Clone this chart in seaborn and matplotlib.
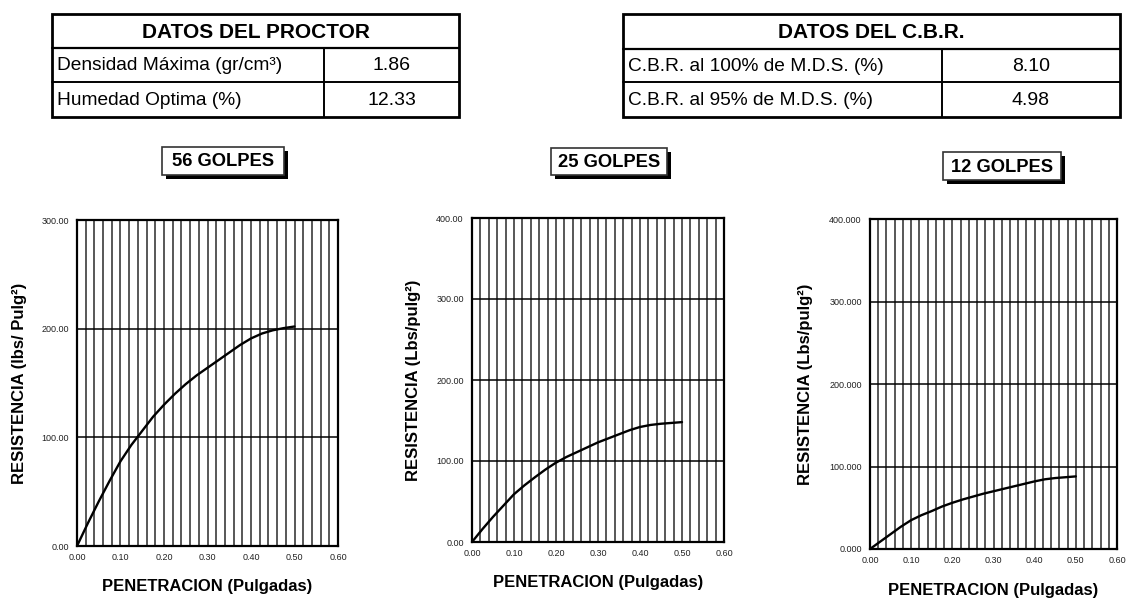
#!/usr/bin/env python3

'''
Curvas de penetracion CBR (56, 25 y 12 golpes) con tablas de datos del Proctor y del C.B.R.
'''

import matplotlib.pyplot as plt
import numpy as np
import pandas as pd
import seaborn as sns
from matplotlib.patches import Rectangle
from matplotlib.ticker import FormatStrFormatter, MultipleLocator

# Tablas de datos
proctor_title = 'DATOS DEL PROCTOR'
proctor_labels = ['Densidad Máxima (gr/cm³)', 'Humedad Optima (%)']
proctor_values = ['1.86', '12.33']

cbr_title = 'DATOS DEL C.B.R.'
cbr_labels = ['C.B.R. al 100% de M.D.S. (%)', 'C.B.R. al 95% de M.D.S. (%)']
cbr_values = ['8.10', '4.98']

# Curvas de penetracion
penetracion = [0.0, 0.025, 0.05, 0.075, 0.10, 0.125, 0.15, 0.175, 0.20, 0.225, 0.25,
               0.275, 0.30, 0.325, 0.35, 0.375, 0.40, 0.425, 0.45, 0.475, 0.50]
resist_56 = [0.0, 21.0, 41.0, 60.0, 78.0, 93.0, 106.0, 119.0, 130.0, 140.0, 149.0,
             157.0, 164.0, 171.0, 178.0, 185.0, 191.0, 195.5, 198.5, 200.5, 202.0]
resist_25 = [0.0, 16.0, 31.0, 45.0, 59.0, 70.0, 80.0, 89.5, 98.0, 105.0, 111.0,
             117.0, 123.0, 128.0, 133.0, 138.0, 142.0, 144.5, 146.0, 147.0, 148.0]
resist_12 = [0.0, 9.0, 18.0, 27.0, 35.0, 41.0, 46.0, 51.5, 56.0, 60.0, 63.5,
             67.0, 70.0, 73.0, 76.0, 79.0, 82.0, 84.5, 86.0, 87.0, 88.0]

golpes = ['56 GOLPES', '25 GOLPES', '12 GOLPES']
ylabels = ['RESISTENCIA (lbs/ Pulg²)', 'RESISTENCIA (Lbs/pulg²)', 'RESISTENCIA (Lbs/pulg²)']
ymax = [300, 400, 400]
yfmt = ['%.2f', '%.2f', '%.3f']

W, H = 1126, 598

sns.set_theme(style='white')
plt.rcParams['font.family'] = ['Liberation Sans', 'DejaVu Sans']
plt.rcParams['text.color'] = 'black'
plt.rcParams['axes.labelcolor'] = 'black'

df = pd.DataFrame({
    'penetracion': penetracion * 3,
    'resistencia': resist_56 + resist_25 + resist_12,
    'golpes': np.repeat(golpes, len(penetracion)),
})

fig = plt.figure(figsize=(W / 100, H / 100), dpi=100)

# Axes boxes in pixels: left, top, right, bottom
boxes = [(77, 220, 338, 546), (472, 218, 724, 542), (870, 219, 1117, 549)]
ylab_x = [-0.193, -0.204, -0.229]
xlab_y = [-0.101, -0.102, -0.103]

for i, (l, t, r, b) in enumerate(boxes):
    ax = fig.add_axes([l / W, (H - b) / H, (r - l) / W, (b - t) / H])
    sub = df[df['golpes'] == golpes[i]]
    sns.lineplot(data=sub, x='penetracion', y='resistencia', ax=ax,
                 color='black', linewidth=1.7, zorder=5)
    ax.set_xlim(0, 0.6)
    ax.set_ylim(0, ymax[i])
    ax.xaxis.set_major_locator(MultipleLocator(0.1))
    ax.xaxis.set_minor_locator(MultipleLocator(0.02))
    ax.yaxis.set_major_locator(MultipleLocator(100))
    ax.xaxis.set_major_formatter(FormatStrFormatter('%.2f'))
    ax.yaxis.set_major_formatter(FormatStrFormatter(yfmt[i]))
    ax.grid(True, which='major', axis='y', color='black', linewidth=1.1)
    ax.grid(True, which='both', axis='x', color='#2a2a2a', linewidth=1.1)
    ax.tick_params(axis='both', which='both', length=0, labelsize=6.5,
                   colors='#222222', pad=6)
    ax.tick_params(axis='x', pad=5)
    for s in ax.spines.values():
        s.set_color('black')
        s.set_linewidth(1.6)
    ax.set_xlabel('PENETRACION (Pulgadas)', fontsize=12, fontweight='bold')
    ax.set_ylabel(ylabels[i], fontsize=12, fontweight='bold')
    ax.xaxis.set_label_coords(0.5, xlab_y[i])
    ax.yaxis.set_label_coords(ylab_x[i], 0.5)

# Overlay in pixel coordinates for tables and titles
ov = fig.add_axes([0, 0, 1, 1], zorder=10)
ov.set_xlim(0, W)
ov.set_ylim(H, 0)
ov.axis('off')
ov.patch.set_alpha(0)


def draw_table(x0, xd, x1, rows, title, labels, values):
    y0, y1, y2, y3 = rows
    ov.add_patch(Rectangle((x0, y0), x1 - x0, y3 - y0, fill=False,
                           edgecolor='black', linewidth=2))
    ov.plot([x0, x1], [y1, y1], color='black', linewidth=1.6)
    ov.plot([x0, x1], [y2, y2], color='black', linewidth=1.4)
    ov.plot([xd, xd], [y1, y3], color='black', linewidth=1.4)
    ov.text((x0 + x1) / 2, (y0 + y1) / 2 + 1, title, ha='center', va='center',
            fontsize=15, fontweight='bold')
    for k, (lab, val) in enumerate(zip(labels, values)):
        yc = [(y1 + y2) / 2, (y2 + y3) / 2][k] + 1
        ov.text(x0 + 5, yc, lab, ha='left', va='center', fontsize=13.8)
        ov.text((xd + x1) / 2, yc, val, ha='center', va='center', fontsize=14)


draw_table(52, 324, 459, (14, 48, 82, 117), proctor_title, proctor_labels, proctor_values)
draw_table(623, 942, 1120, (14, 49, 82, 117), cbr_title, cbr_labels, cbr_values)

# Title boxes with shadow
title_boxes = [(162, 147, 284, 175), (551, 148, 667, 175), (943, 152, 1061, 180)]
for name, (l, t, r, b) in zip(golpes, title_boxes):
    ov.add_patch(Rectangle((l + 4, t + 4), r - l, b - t, facecolor='black',
                           edgecolor='black', linewidth=0))
    ov.add_patch(Rectangle((l, t), r - l, b - t, facecolor='white',
                           edgecolor='#333333', linewidth=1.2))
    ov.text((l + r) / 2, (t + b) / 2 + 1, name, ha='center', va='center',
            fontsize=13.2, fontweight='bold')

plt.savefig('out.png', dpi=100)
